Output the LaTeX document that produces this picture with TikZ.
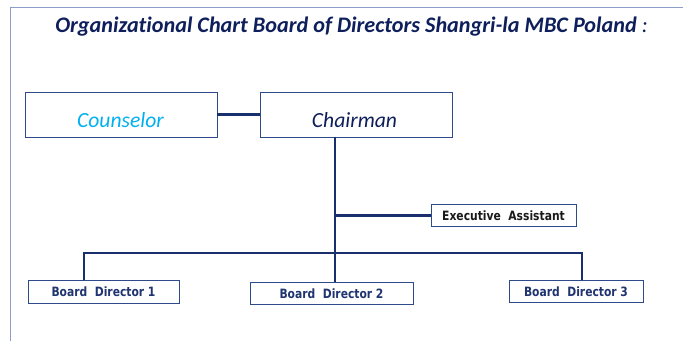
\documentclass[tikz,border=0pt]{standalone}
\usepackage{fontspec}
\setmainfont[Ligatures=NoCommon]{Carlito}
\newfontfamily\bdfont[FakeStretch=0.84]{DejaVu Sans}
\definecolor{navy}{HTML}{0E1F5B}
\definecolor{linecol}{HTML}{1A2F6E}
\definecolor{boxcol}{HTML}{2E4A8A}
\definecolor{framecol}{HTML}{8E9CC8}
\definecolor{cyanish}{HTML}{00B0F0}
\definecolor{bdtext}{HTML}{1F3470}
\definecolor{eatext}{HTML}{1A1A1A}
\tikzset{
  bigbox/.style={draw=boxcol, line width=0.9pt, minimum width=192pt, minimum height=45pt, inner sep=0pt},
  smallbox/.style={draw=boxcol, line width=0.9pt, minimum height=22.5pt, inner sep=0pt,
     font=\bdfont\bfseries\fontsize{12.8}{14}\selectfont, text=bdtext},
  conn/.style={draw=linecol, line width=2.3pt},
  bigtext/.style={anchor=base, inner sep=0pt, font=\itshape\fontsize{21.6}{25}\selectfont}
}
\begin{document}
\begin{tikzpicture}[x=1pt,y=-1pt]
\useasboundingbox (0,0) rectangle (683,341);
\fill[white] (0,0) rectangle (683,341);
\draw[framecol, line width=0.9pt] (10.5,341) -- (10.5,7.5) -- (683,7.5);
\node[anchor=base, inner sep=0pt, text=navy, font=\bfseries\itshape\fontsize{22.2}{26}\selectfont] (title) at (351.5,32)
  {Organizational Chart Board of Directors Shangri-la MBC Poland {\mdseries:}};
\node[bigbox] (counselor) at (121,114.5) {};
\node[bigbox] (chairman) at (356,114.5) {};
\node[bigtext, text=cyanish] (counselortext) at (120.5,127) {Counselor};
\node[bigtext, text=navy] (chairmantext) at (354.5,127) {Chairman};
\node[smallbox, minimum width=145pt, text=eatext] (ea) at (503.5,215.5) {Executive\ \ Assistant};
\node[smallbox, minimum width=151pt] (bd1) at (103.5,292) {Board\ \ Director 1};
\node[smallbox, minimum width=163pt] (bd2) at (331.5,293.5) {Board\ \ Director 2};
\node[smallbox, minimum width=134pt] (bd3) at (576,291.5) {Board\ \ Director 3};
\coordinate (tx) at (335,0);
\coordinate (k1) at (84,253);
\coordinate (k3) at (582,253);
\draw[conn] (counselor.east) -- (chairman.west);
\draw[conn] (tx |- chairman.south) -- (tx |- bd2.north);
\draw[conn] (tx |- ea.west) -- (ea.west);
\draw[conn] (k1 |- bd1.north) -- (k1) -- (k3) -- (k3 |- bd3.north);
\end{tikzpicture}
\end{document}
